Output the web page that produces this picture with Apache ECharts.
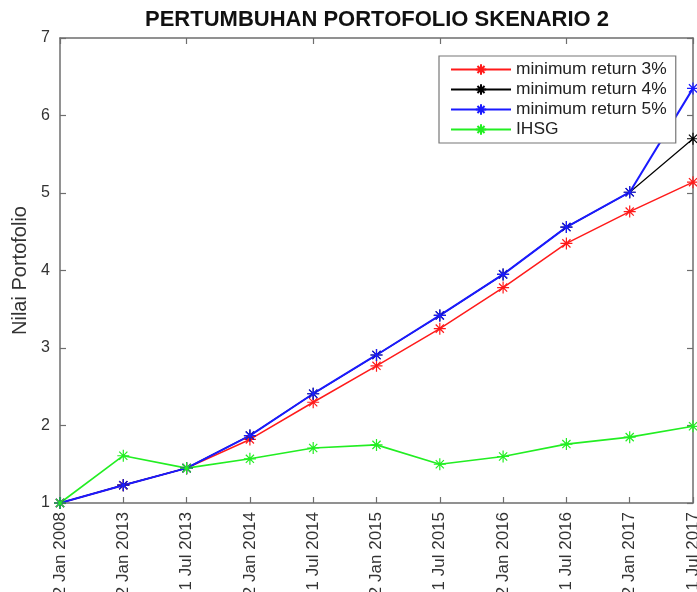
<!DOCTYPE html>
<html>
<head>
<meta charset="utf-8">
<script src="https://cdn.jsdelivr.net/npm/echarts@6/dist/echarts.min.js"></script>
<style>html,body{margin:0;padding:0;background:#fff;}#c{width:697px;height:592px;}</style>
</head>
<body>
<div id="c"></div>
<script>
var categories = ['2 Jan 2008','2 Jan 2013','1 Jul 2013','2 Jan 2014','1 Jul 2014','2 Jan 2015','1 Jul 2015','2 Jan 2016','1 Jul 2016','2 Jan 2017','1 Jul 2017'];
var ret3 = [1.00,1.23,1.45,1.82,2.30,2.77,3.25,3.78,4.35,4.76,5.14];
var ret4 = [1.00,1.23,1.45,1.87,2.41,2.91,3.42,3.95,4.56,5.01,5.70];
var ret5 = [1.00,1.23,1.45,1.87,2.41,2.91,3.42,3.95,4.56,5.01,6.35];
var ihsg = [1.00,1.61,1.45,1.57,1.71,1.75,1.50,1.60,1.76,1.85,1.99];
var yTicks = [1,2,3,4,5,6,7];

var FONT = 'Liberation Sans, Arial, Helvetica, sans-serif';
var AX = '#6e6e6e';
var STAR = 'path://M0,5L10,5M5,0L5,10M1.6,1.6L8.4,8.4M1.6,8.4L8.4,1.6';

function mk(name, data, color, lw) {
  return {
    name: name, type: 'line', data: data, clip: false,
    symbol: STAR, symbolSize: 12,
    lineStyle: {color: color, width: lw},
    itemStyle: {color: color, borderColor: color, borderWidth: 1.2},
    emphasis: {disabled: true}, animation: false
  };
}

var chart = echarts.init(document.getElementById('c'));
chart.setOption({
  backgroundColor: '#fff',
  animation: false,
  title: {
    text: 'PERTUMBUHAN PORTOFOLIO SKENARIO 2',
    left: 145, top: 9, padding: 0,
    textStyle: {fontFamily: FONT, fontSize: 22, fontWeight: 'bold', color: '#111'}
  },
  legend: {
    orient: 'vertical', left: 439, top: 56,
    padding: [5, 9, 5, 11],
    itemWidth: 60, itemHeight: 13, itemGap: 3,
    backgroundColor: '#fff', borderColor: '#777', borderWidth: 1.2,
    borderRadius: 0,
    textStyle: {fontFamily: FONT, fontSize: 17.4, color: '#222', lineHeight: 17},
    data: ['minimum return 3%','minimum return 4%','minimum return 5%','IHSG']
  },
  grid: {left: 60, right: 4, top: 38, bottom: 89, containLabel: false, outerBoundsMode: 'none'},
  xAxis: [{
    type: 'category', data: categories, boundaryGap: false, position: 'bottom',
    axisLine: {show: true, onZero: false, lineStyle: {color: AX, width: 1.5}},
    axisTick: {show: true, inside: true, length: 6, lineStyle: {color: AX, width: 1.2}},
    axisLabel: {rotate: 90, margin: 9, interval: 0, fontFamily: FONT, fontSize: 17, color: '#333'},
    splitLine: {show: false}
  }, {
    type: 'category', data: categories, boundaryGap: false, position: 'top',
    axisLine: {show: true, onZero: false, lineStyle: {color: AX, width: 1.5}},
    axisTick: {show: true, inside: true, length: 6, lineStyle: {color: AX, width: 1.2}},
    axisLabel: {show: false}, splitLine: {show: false}
  }],
  yAxis: [{
    type: 'value', min: yTicks[0], max: yTicks[yTicks.length-1], interval: 1, position: 'left',
    name: 'Nilai Portofolio', nameLocation: 'middle', nameGap: 29, nameRotate: 90,
    nameTextStyle: {fontFamily: FONT, fontSize: 20, color: '#333'},
    axisLine: {show: true, onZero: false, lineStyle: {color: AX, width: 1.5}},
    axisTick: {show: true, inside: true, length: 6, lineStyle: {color: AX, width: 1.2}},
    axisLabel: {margin: 10, fontFamily: FONT, fontSize: 16, color: '#333'},
    splitLine: {show: false}
  }, {
    type: 'value', min: yTicks[0], max: yTicks[yTicks.length-1], interval: 1, position: 'right',
    axisLine: {show: true, onZero: false, lineStyle: {color: AX, width: 1.5}},
    axisTick: {show: true, inside: true, length: 6, lineStyle: {color: AX, width: 1.2}},
    axisLabel: {show: false}, splitLine: {show: false}
  }],
  series: [
    mk('minimum return 3%', ret3, '#ff1a1a', 1.5),
    mk('minimum return 4%', ret4, '#000000', 1.2),
    mk('minimum return 5%', ret5, '#1a1aff', 2),
    mk('IHSG', ihsg, '#22ee22', 1.6)
  ]
});
</script>
</body>
</html>
